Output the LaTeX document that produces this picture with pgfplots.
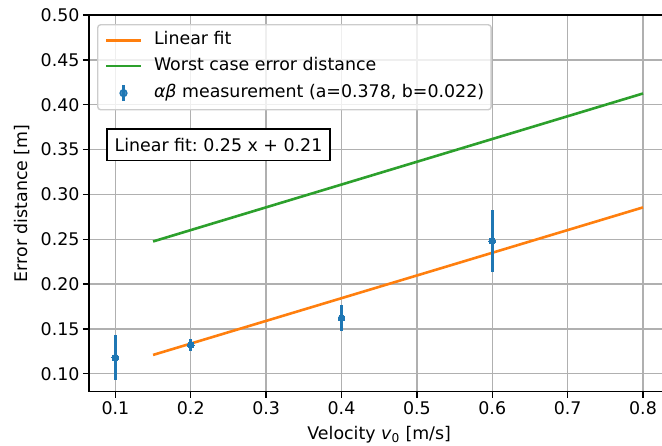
\documentclass[border=0pt]{standalone}
\usepackage{pgfplots}
\pgfplotsset{compat=1.18}
\usepackage{fontspec}
\setmainfont{DejaVu Sans}[ItalicFont={DejaVu Sans Oblique}]
\frenchspacing
\newcommand{\fs}{\fontsize{17.4}{20.8}\selectfont}
\definecolor{tabblue}{HTML}{1F77B4}
\definecolor{taborange}{HTML}{FF7F0E}
\definecolor{tabgreen}{HTML}{2CA02C}
\definecolor{gridgray}{HTML}{B0B0B0}
\definecolor{legframe}{HTML}{CCCCCC}

\begin{document}
\begin{tikzpicture}
% page area; the right spine falls just outside it
\useasboundingbox (-89pt,-53.3pt) rectangle (573pt,391.7pt);
\begin{axis}[
  at={(0,0)}, anchor=south west,
  scale only axis, width=580.4pt, height=376.7pt,
  xmin=0.065, xmax=0.835, ymin=0.08, ymax=0.50,
  xtick={0.1,0.2,0.3,0.4,0.5,0.6,0.7,0.8},
  ytick={0.10,0.15,0.20,0.25,0.30,0.35,0.40,0.45,0.50},
  scaled ticks=false,
  xticklabel style={/pgf/number format/.cd, fixed, precision=1, assume math mode=true},
  yticklabel style={/pgf/number format/.cd, fixed, fixed zerofill, precision=2, assume math mode=true},
  tick label style={font=\fs},
  label style={font=\fs},
  tick pos=left, tick align=outside,
  major tick length=6pt,
  tick style={line width=1.4pt, black},
  axis line style={line width=1.4pt, black},
  grid=major,
  grid style={gridgray, line width=1.4pt},
  xlabel={Velocity \textit{v}\textsubscript{0} [m/s]},
  ylabel={Error distance [m]},
  xlabel style={at={(axis description cs:0.5,-0.1269)}, anchor=base},
  ylabel style={at={(axis description cs:-0.1051,0.5)}, anchor=base},
  % handle 35pt long, followed by a 13pt gap before the text
  legend image code/.code={
    \path[draw=none, fill=none] (0pt,0pt) (48pt,0pt);
    \draw[#1] (0pt,0pt) -- (35pt,0pt);},
  legend cell align=left,
  legend style={
    at={(axis description cs:0.0138,0.976)}, anchor=north west,
    font=\fs, draw=legframe, line width=1.4pt, rounded corners=3pt,
    fill=white, fill opacity=0.8, text opacity=1,
    inner xsep=7pt, inner ysep=7.3pt, row sep=9.5pt,
    nodes={inner sep=0pt, text height=12.8pt, text depth=3.6pt},
  },
]
% fitted line through the measurements
\addplot[taborange, line width=2.6pt] coordinates {(0.15,0.1210) (0.80,0.2855)};
\addlegendentry{Linear fit}
% worst case error distance
\addplot[tabgreen, line width=2.6pt] coordinates {(0.15,0.2475) (0.80,0.4125)};
\addlegendentry{Worst case error distance}
% measured error distances with their spread
\addplot[only marks, mark=*, mark size=3.4pt, tabblue,
  mark options={fill=tabblue, draw=tabblue, line width=0pt},
  legend image code/.code={
    \path[draw=none, fill=none] (0pt,0pt) (48pt,0pt);
    \draw[tabblue, line width=2.6pt] (17.5pt,-8pt) -- (17.5pt,8pt);
    \fill[tabblue] (17.5pt,0pt) circle (3.4pt);},
  error bars/.cd, y dir=both, y explicit, error mark=none,
  error bar style={line width=2.6pt, tabblue}]
  coordinates {
    (0.1,0.118) +- (0,0.0255)
    (0.2,0.132) +- (0,0.0070)
    (0.4,0.162) +- (0,0.0147)
    (0.6,0.248) +- (0,0.0350)
  };
\addlegendentry{\textit{αβ} measurement (a=0.378, b=0.022)}
\node[draw=black, line width=1.4pt, fill=white, inner sep=0pt,
  minimum width=223pt, minimum height=31.7pt, font=\fs]
  at (axis description cs:0.2231,0.6553) {Linear fit: 0.25 x + 0.21};
\end{axis}
\end{tikzpicture}
\end{document}
